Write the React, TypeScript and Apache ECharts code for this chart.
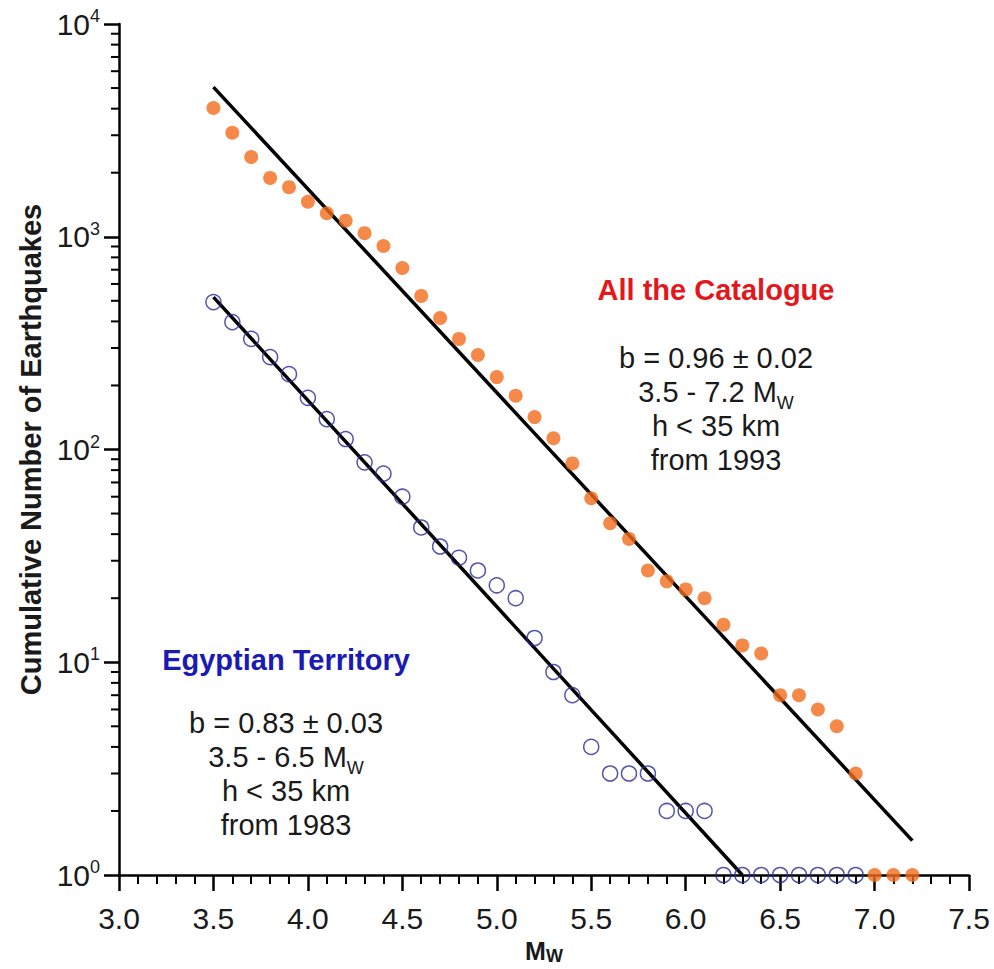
import React, { useEffect, useRef } from 'react';
import * as echarts from 'echarts';

// Magnitudes (Mw) and cumulative counts
const magnitudesAll = [3.5, 3.6, 3.7, 3.8, 3.9, 4.0, 4.1, 4.2, 4.3, 4.4, 4.5, 4.6, 4.7, 4.8, 4.9, 5.0, 5.1, 5.2, 5.3, 5.4, 5.5, 5.6, 5.7, 5.8, 5.9, 6.0, 6.1, 6.2, 6.3, 6.4, 6.5, 6.6, 6.7, 6.8, 6.9, 7.0, 7.1, 7.2];
const countsAll = [4030, 3080, 2370, 1890, 1710, 1460, 1290, 1190, 1040, 905, 713, 527, 415, 331, 278, 219, 179, 142, 113, 86, 59, 45, 38, 27, 24, 22, 20, 15, 12, 11, 7, 7, 6, 5, 3, 1, 1, 1];

const magnitudesEgypt = [3.5, 3.6, 3.7, 3.8, 3.9, 4.0, 4.1, 4.2, 4.3, 4.4, 4.5, 4.6, 4.7, 4.8, 4.9, 5.0, 5.1, 5.2, 5.3, 5.4, 5.5, 5.6, 5.7, 5.8, 5.9, 6.0, 6.1, 6.2, 6.3, 6.4, 6.5, 6.6, 6.7, 6.8, 6.9];
const countsEgypt = [493, 397, 331, 272, 226, 175, 139, 112, 87, 77, 60, 43, 35, 31, 27, 23, 20, 13, 9, 7, 4, 3, 3, 3, 2, 2, 2, 1, 1, 1, 1, 1, 1, 1, 1];

// Gutenberg-Richter fit lines (end points)
const fitAllLine = [[3.5, 5050], [7.2, 1.45]];
const fitEgyptLine = [[3.5, 520], [6.3, 1]];

// Axis ticks
const xTickValues = [3.0, 3.5, 4.0, 4.5, 5.0, 5.5, 6.0, 6.5, 7.0, 7.5];
const yMinorTickValues = [2, 3, 4, 5, 6, 7, 8, 9, 20, 30, 40, 50, 60, 70, 80, 90, 200, 300, 400, 500, 600, 700, 800, 900, 2000, 3000, 4000, 5000, 6000, 7000, 8000, 9000];

const catalogueTitle = 'All the Catalogue';
const catalogueLines = ['b = 0.96 ± 0.02', '{n|3.5 - 7.2 M}{s|W}', 'h < 35 km', 'from 1993'];
const egyptTitle = 'Egyptian Territory';
const egyptLines = ['b = 0.83 ± 0.03', '{n|3.5 - 6.5 M}{s|W}', 'h < 35 km', 'from 1983'];

const FONT = '"Liberation Sans", Arial, Helvetica, sans-serif';
const TEXT = '#1a1a1a';

export default function App() {
  const ref = useRef<HTMLDivElement>(null);

  useEffect(() => {
    document.body.style.margin = '0';
    if (!ref.current) return;
    const chart = echarts.init(ref.current, null, { renderer: 'svg' });

    const richText = {
      n: { fontSize: 29, fontFamily: FONT, fill: TEXT, lineHeight: 40 },
      s: { fontSize: 18, fontFamily: FONT, fill: TEXT, lineHeight: 18, verticalAlign: 'bottom' },
    };

    const makeBlock = (title: string, lines: string[], cx: number, titleY: number, firstY: number, color: string) => {
      const els: any[] = [
        {
          type: 'text',
          x: cx,
          y: titleY,
          style: {
            text: title,
            fontSize: 29,
            fontWeight: 'bold',
            fontFamily: FONT,
            fill: color,
            align: 'center',
            verticalAlign: 'middle',
          },
        },
      ];
      lines.forEach((t, i) => {
        els.push({
          type: 'text',
          x: cx,
          y: firstY + i * 34,
          style: {
            text: t,
            fontSize: 29,
            fontFamily: FONT,
            fill: TEXT,
            align: 'center',
            verticalAlign: 'middle',
            rich: richText,
          },
        });
      });
      return els;
    };

    chart.setOption({
      animation: false,
      backgroundColor: '#ffffff',
      grid: { left: 119, right: 25, top: 24, bottom: 94, containLabel: false, outerBoundsMode: 'none' },
      xAxis: {
        type: 'value',
        min: 3,
        max: 7.5,
        interval: 0.5,
        axisLine: { show: true, onZero: false, lineStyle: { color: '#000', width: 2.5 } },
        axisTick: { show: true, length: 16, lineStyle: { color: '#000', width: 2.5 } },
        minorTick: { show: true, splitNumber: 5, length: 9, lineStyle: { color: '#000', width: 2 } },
        splitLine: { show: false },
        axisLabel: {
          fontSize: 30,
          fontFamily: FONT,
          color: TEXT,
          margin: 28,
          formatter: (v: number) => (xTickValues.includes(Number(v.toFixed(1))) ? v.toFixed(1) : ''),
        },
        name: '{m|M}{w|W}',
        nameLocation: 'middle',
        nameGap: 62,
        nameTextStyle: {
          rich: {
            m: { fontSize: 25, fontWeight: 'bold', fontFamily: FONT, color: TEXT, lineHeight: 28 },
            w: { fontSize: 18, fontWeight: 'bold', fontFamily: FONT, color: TEXT, lineHeight: 14, verticalAlign: 'bottom' },
          },
        },
      },
      yAxis: {
        type: 'log',
        logBase: 10,
        min: 1,
        max: 10000,
        axisLine: { show: true, lineStyle: { color: '#000', width: 2.5 } },
        axisTick: { show: true, length: 15, lineStyle: { color: '#000', width: 2.5 } },
        minorTick: { show: false },
        splitLine: { show: false },
        axisLabel: {
          margin: 19,
          formatter: (v: number) => `{b|10}{s|${Math.round(Math.log10(v))}}`,
          rich: {
            b: { fontSize: 30, fontFamily: FONT, color: TEXT, lineHeight: 34 },
            s: { fontSize: 18, fontFamily: FONT, color: TEXT, lineHeight: 18, verticalAlign: 'top' },
          },
        },
        name: 'Cumulative Number of Earthquakes',
        nameLocation: 'middle',
        nameGap: 74,
        nameRotate: 90,
        nameTextStyle: { fontSize: 29, fontWeight: 'bold', fontFamily: FONT, color: TEXT },
      },
      series: [
        {
          type: 'custom',
          name: 'yMinorTicks',
          coordinateSystem: 'cartesian2d',
          silent: true,
          clip: false,
          encode: { x: 0, y: 1 },
          data: yMinorTickValues.map((v) => [3, v]),
          renderItem: (_params: any, api: any) => {
            const p = api.coord([api.value(0), api.value(1)]);
            return {
              type: 'line',
              shape: { x1: p[0] - 8, y1: p[1], x2: p[0], y2: p[1] },
              style: { stroke: '#000', lineWidth: 2 },
            };
          },
          z: 5,
        },
        {
          type: 'line',
          name: 'fitAll',
          data: fitAllLine,
          symbol: 'none',
          silent: true,
          lineStyle: { color: '#000', width: 3.5 },
          z: 3,
        },
        {
          type: 'line',
          name: 'fitEgypt',
          data: fitEgyptLine,
          symbol: 'none',
          silent: true,
          lineStyle: { color: '#000', width: 3.5 },
          z: 3,
        },
        {
          type: 'scatter',
          name: 'All the Catalogue',
          data: magnitudesAll.map((m, i) => [m, countsAll[i]]),
          symbol: 'circle',
          symbolSize: 14,
          clip: false,
          itemStyle: { color: '#f36c1c' },
          z: 4,
        },
        {
          type: 'scatter',
          name: 'Egyptian Territory',
          data: magnitudesEgypt.map((m, i) => [m, countsEgypt[i]]),
          symbol: 'circle',
          symbolSize: 15,
          clip: false,
          itemStyle: { color: 'rgba(0,0,0,0)', borderColor: '#2a2c96', borderWidth: 1.5 },
          z: 4,
        },
      ],
      graphic: [
        ...makeBlock(catalogueTitle, catalogueLines, 716, 290, 358, '#e2181c'),
        ...makeBlock(egyptTitle, egyptLines, 286, 660, 723, '#1a1ab4'),
      ],
    });

    return () => chart.dispose();
  }, []);

  return <div ref={ref} style={{ width: 994, height: 969 }} />;
}
